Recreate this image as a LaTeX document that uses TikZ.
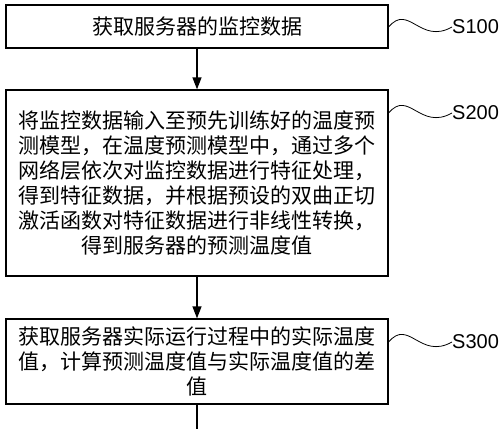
\documentclass[tikz,border=0pt]{standalone}
\usepackage{fontspec}
\setmainfont{Liberation Sans}
\newfontfamily\cjk{Noto Sans CJK SC}
\usetikzlibrary{arrows.meta}

\begin{document}
\begin{tikzpicture}[x=1pt,y=-1pt,
  box/.style={draw,line width=1.3pt,minimum width=382pt,inner sep=0pt,
    font=\cjk\fontsize{21pt}{25pt}\selectfont,align=center},
  tag/.style={anchor=west,inner sep=0pt,font=\fontsize{20pt}{24pt}\selectfont},
  flow/.style={-{Triangle[length=12pt,width=9pt]},line width=1.3pt},
  wave/.style={line width=0.8pt}]
\useasboundingbox (0,0) rectangle (500,429);

\draw (197,26.5) node[box,minimum height=43pt](b100) {获取服务器的监控数据} ;
\draw (197,183) node[box,minimum height=186pt](b200)
  {将监控数据输入至预先训练好的温度预\\
   测模型，在温度预测模型中，通过多个\\
   网络层依次对监控数据进行特征处理，\\
   得到特征数据，并根据预设的双曲正切\\
   激活函数对特征数据进行非线性转换，\\
   得到服务器的预测温度值} ;
\draw (197,361.5) node[box,minimum height=85pt](b300)
  {获取服务器实际运行过程中的实际温度\\
   值，计算预测温度值与实际温度值的差\\
   值} ;
\coordinate (tail) at (197,429);

\draw (452,27) node[tag](l100) {S100} ;
\draw (452,113) node[tag](l200) {S200} ;
\draw (452,342) node[tag](l300) {S300} ;

\draw[flow] (b100) -- (b200);
\draw[flow] (b200) -- (b300);
\draw[line width=1.3pt] (b300) -- (tail);

\draw[wave] (b100.east |- l100.west) .. controls +(20,-24) and +(-32,18) .. (l100.west);
\draw[wave] (b200.east |- l200.west) .. controls +(20,-24) and +(-32,18) .. (l200.west);
\draw[wave] (b300.east |- l300.west) .. controls +(20,-24) and +(-32,18) .. (l300.west);
\end{tikzpicture}
\end{document}
